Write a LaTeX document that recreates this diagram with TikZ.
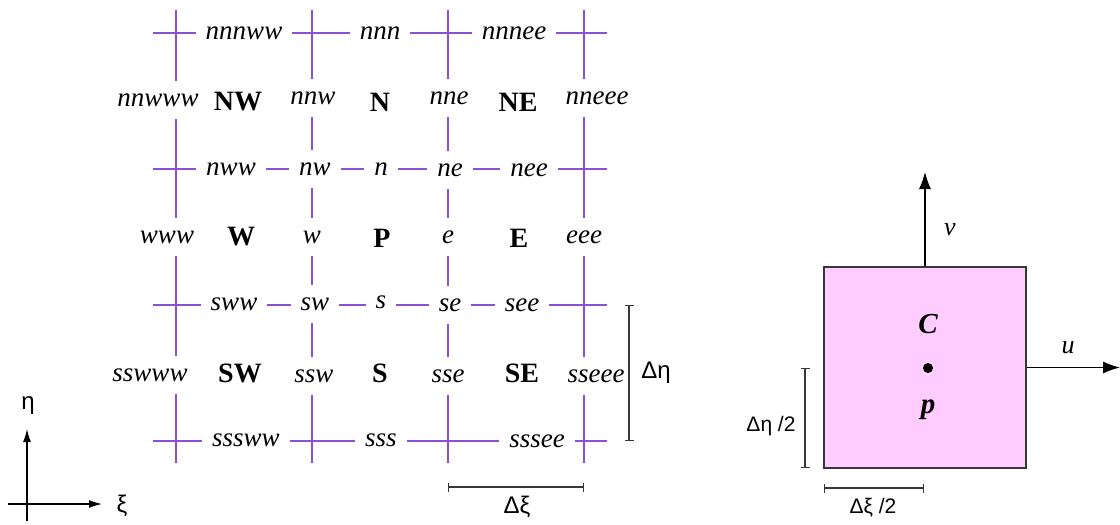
\documentclass[tikz,border=0pt]{standalone}
\usepackage{fontspec}
\setmainfont{Liberation Serif}
\newfontfamily\sansf{Liberation Sans}
\usetikzlibrary{arrows.meta}
\definecolor{gridc}{RGB}{140,80,215}
\definecolor{cellpink}{RGB}{255,204,255}
\definecolor{dimc}{RGB}{55,55,55}
\begin{document}
\begin{tikzpicture}[x=1pt,y=-1pt,
  gl/.style={draw=gridc,line width=1.6pt},
  lab/.style={fill=white,inner xsep=10pt,inner ysep=13pt,font=\fontsize{27}{32}\selectfont\itshape},
  big/.style={inner sep=0pt,font=\fontsize{28}{33}\selectfont\bfseries},
  gk/.style={inner sep=0pt,font=\sansf\fontsize{24}{29}\selectfont},
  gks/.style={inner sep=0pt,font=\sansf\fontsize{21}{26}\selectfont},
  dimline/.style={draw=dimc,line width=1.2pt,{Bar[width=9pt]}-{Bar[width=9pt]}},
  axis/.style={draw=black,line width=1.2pt,-{Latex[length=13pt,width=8pt]}},
  vel/.style={draw=dimc,line width=1.3pt,-{Latex[length=17pt,width=12pt]},black}]
\useasboundingbox (0,0) rectangle (1120,525);
% grid lines
\foreach \x in {176,312,448,584} \draw[gl] (\x,10) -- (\x,463);
\foreach \y in {33,169,305,441} \draw[gl] (153,\y) -- (607,\y);
% face labels (cut the lines)
\node[lab] (nnnww) at (244,33) {nnnww};
\node[lab] (nnn) at (380,33) {nnn};
\node[lab] (nnnee) at (514,33) {nnnee};
\node[lab] (nnwww) at (158,100) {nnwww};
\node[lab] (nnw) at (313,98) {nnw};
\node[lab] (nne) at (449,98) {nne};
\node[lab] (nneee) at (597,98) {nneee};
\node[lab] (nww) at (231,169) {nww};
\node[lab] (nw) at (315,169) {nw};
\node[lab] (n) at (381,169) {n};
\node[lab] (ne) at (450,170) {ne};
\node[lab] (nee) at (529,170) {nee};
\node[lab] (www) at (167,237) {www};
\node[lab] (w) at (312,237) {w};
\node[lab] (e) at (448,237) {e};
\node[lab] (eee) at (584,237) {eee};
\node[lab] (sww) at (234,304) {sww};
\node[lab] (sw) at (315,304) {sw};
\node[lab] (s) at (381,302) {s};
\node[lab] (se) at (450,305) {se};
\node[lab] (see) at (522,305) {see};
\node[lab] (sswww) at (150,375) {sswww};
\node[lab] (ssw) at (314,376) {ssw};
\node[lab] (sse) at (448,376) {sse};
\node[lab] (sseee) at (596,376) {sseee};
\node[lab] (sssww) at (246,440) {sssww};
\node[lab] (sss) at (381,440) {sss};
\node[lab] (sssee) at (537,441) {sssee};
% cell centres
\node[big] (NW) at (238,102) {NW};
\node[big] (N) at (380,102) {N};
\node[big] (NE) at (518,102) {NE};
\node[big] (W) at (241,237) {W};
\node[big] (P) at (382,238) {P};
\node[big] (E) at (519,238) {E};
\node[big] (SW) at (240,373) {SW};
\node[big] (S) at (380,373) {S};
\node[big] (SE) at (522,373) {SE};
% spacing brackets
\coordinate (deta1) at (629,305);
\coordinate (deta2) at (629,441);
\draw[dimline] (deta1) -- (deta2);
\node[gk] (deta) at (656,373) {Δη};
\coordinate (dxi1) at (448,487);
\coordinate (dxi2) at (584,487);
\draw[dimline] (dxi1) -- (dxi2);
\node[gk] (dxi) at (517,507) {Δξ};
% axes
\coordinate (ebot) at (27,521);
\coordinate (etop) at (27,429);
\coordinate (xl) at (8,504);
\coordinate (xr) at (102,504);
\draw[axis] (ebot) -- (etop);
\draw[axis] (xl) -- (xr);
\node[gk] (eta) at (28,406) {η};
\node[gk] (xi) at (122,506) {ξ};
% control volume
\node[draw=dimc,fill=cellpink,line width=1.3pt,inner sep=0pt,minimum width=202pt,minimum height=201pt] (box) at (925,367.5) {};
\coordinate (vtip) at (925,172);
\coordinate (utip) at (1120,367.5);
\draw[vel] (box.north) -- (vtip);
\draw[vel] (box.east) -- (utip);
\node[inner sep=0pt,font=\fontsize{26}{30}\selectfont\itshape] (v) at (950,230) {v};
\node[inner sep=0pt,font=\fontsize{26}{30}\selectfont\itshape] (u) at (1068,348) {u};
\node[inner sep=0pt,font=\fontsize{29}{33}\selectfont\bfseries\itshape] (C) at (928,324) {C};
\fill (928,368) circle (5);
\node[inner sep=0pt,font=\fontsize{29}{33}\selectfont\bfseries\itshape] (p) at (928,410) {p};
\coordinate (dh1) at (805,368);
\coordinate (dh2) at (805,468);
\draw[dimline] (dh1) -- (dh2);
\node[gks] (deta2l) at (771,426) {Δη /2};
\coordinate (dx1) at (824,488);
\coordinate (dx2) at (924,488);
\draw[dimline] (dx1) -- (dx2);
\node[gks] (dxi2l) at (873,508) {Δξ /2};
\end{tikzpicture}
\end{document}
